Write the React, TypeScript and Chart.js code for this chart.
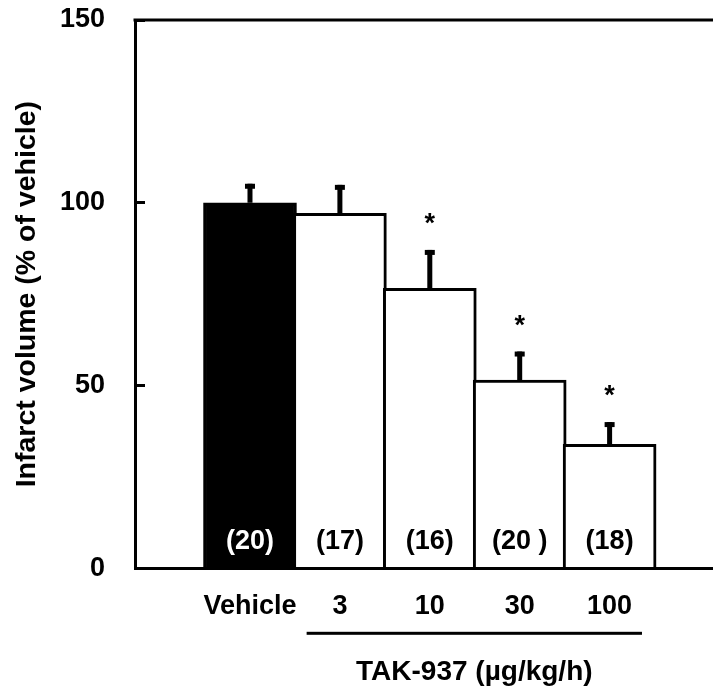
import React, { useEffect, useRef } from 'react';
import { Chart, registerables } from 'chart.js';

Chart.register(...registerables);

// ---- data ----
const categories = ['Vehicle', '3', '10', '30', '100'];
const meanValues = [100, 97.1, 76.6, 51.5, 33.9];
const semValues = [5.2, 7.8, 10.5, 7.8, 6.1];
const groupSizes = ['(20)', '(17)', '(16)', '(20 )', '(18)'];
const significant = [false, false, true, true, true];
const yTickValues = [0, 50, 100, 150];
const yTitle = 'Infarct volume (% of vehicle)';
const doseTitle = 'TAK-937 (µg/kg/h)';
const doseGroupFirst = 1;
const doseGroupLast = 4;

const FONT = "'Liberation Sans', Arial, Helvetica, sans-serif";
const W = 713;
const H = 697;
const AXIS_BOTTOM = 568.3;

const annotations = {
  id: 'annotations',
  afterDatasetsDraw(chart: any) {
    const { ctx, chartArea } = chart;
    const x = chart.scales.x;
    const y = chart.scales.y;
    ctx.save();
    ctx.fillStyle = '#000';
    // top frame line
    ctx.fillRect(chartArea.left - 1.5, chartArea.top - 1.5, chartArea.right - chartArea.left + 1.5, 3);
    const zero = y.getPixelForValue(0);
    meanValues.forEach((m, i) => {
      const px = x.getPixelForValue(i);
      const top = y.getPixelForValue(m + semValues[i]);
      const base = y.getPixelForValue(m);
      ctx.fillStyle = '#000';
      ctx.fillRect(px - 2.5, top, 5, base - top);
      ctx.fillRect(px - 5, top, 10, 5);
      ctx.textAlign = 'center';
      ctx.font = `bold 27px ${FONT}`;
      if (significant[i]) {
        ctx.textBaseline = 'alphabetic';
        ctx.fillText('*', px, top - 17.6);
      }
      ctx.textBaseline = 'middle';
      ctx.fillStyle = i === 0 ? '#fff' : '#000';
      ctx.fillText(groupSizes[i], px, zero - 27);
    });
    ctx.restore();
  },
  afterDraw(chart: any) {
    const { ctx, chartArea } = chart;
    const x = chart.scales.x;
    ctx.save();
    ctx.fillStyle = '#000';
    const x0 = x.getPixelForValue(doseGroupFirst - 0.37);
    const x1 = x.getPixelForValue(doseGroupLast + 0.36);
    const yb = chartArea.bottom;
    ctx.fillRect(x0, yb + 63.5, x1 - x0, 3);
    ctx.font = `bold 28px ${FONT}`;
    ctx.textAlign = 'center';
    ctx.textBaseline = 'middle';
    ctx.fillText(doseTitle, (x0 + x1) / 2, yb + 104);
    ctx.restore();
  },
};

export default function App() {
  const canvasRef = useRef<HTMLCanvasElement | null>(null);

  useEffect(() => {
    if (!canvasRef.current) return;
    const tickFont = { family: FONT, size: 27, weight: 'bold' as const };
    const chart = new Chart(canvasRef.current, {
      type: 'bar',
      data: {
        datasets: [
          {
            data: meanValues.map((v, i) => ({ x: i, y: v })),
            backgroundColor: (c: any) => (c.dataIndex === 0 ? '#000' : '#fff'),
            borderColor: '#000',
            borderWidth: 3,
            barThickness: 93,
          } as any,
        ],
      },
      options: {
        responsive: false,
        animation: false,
        devicePixelRatio: 1,
        layout: { padding: { top: 20, left: 0, right: 0, bottom: 0 } },
        plugins: { legend: { display: false }, tooltip: { enabled: false } },
        scales: {
          x: {
            type: 'linear',
            min: -1.279,
            max: 5.15,
            bounds: 'data',
            offset: false,
            afterBuildTicks: (s: any) => {
              s.ticks = categories.map((_, i) => ({ value: i }));
            },
            afterFit: (s: any) => {
              s.height = H - AXIS_BOTTOM;
              s.paddingLeft = 0;
              s.paddingRight = 0;
            },
            grid: { display: false, drawTicks: false },
            border: { display: true, color: '#000', width: 3, z: 1 },
            ticks: {
              callback: (v: any) => categories[v] ?? '',
              color: '#000',
              font: tickFont,
              padding: 22,
              autoSkip: false,
              maxRotation: 0,
              minRotation: 0,
            },
          },
          y: {
            type: 'linear',
            min: 0,
            max: 150,
            afterBuildTicks: (s: any) => {
              s.ticks = yTickValues.map((v) => ({ value: v }));
            },
            afterFit: (s: any) => {
              s.width = 135;
              s.paddingTop = 0;
              s.paddingBottom = 0;
            },
            grid: {
              drawOnChartArea: false,
              drawTicks: true,
              tickLength: -10,
              tickWidth: 3,
              tickColor: '#000',
            },
            border: { display: true, color: '#000', width: 3, z: 1 },
            ticks: { color: '#000', font: tickFont, padding: 40 },
            title: {
              display: true,
              text: yTitle,
              color: '#000',
              font: { family: FONT, size: 28.5, weight: 'bold', lineHeight: 1.2 },
              padding: { top: 10, bottom: 0 },
            },
          },
        },
      } as any,
      plugins: [annotations],
    });
    return () => chart.destroy();
  }, []);

  return (
    <div style={{ position: 'fixed', left: 0, top: 0, width: W, height: H, background: '#fff' }}>
      <canvas ref={canvasRef} width={W} height={H} style={{ display: 'block' }} />
    </div>
  );
}
